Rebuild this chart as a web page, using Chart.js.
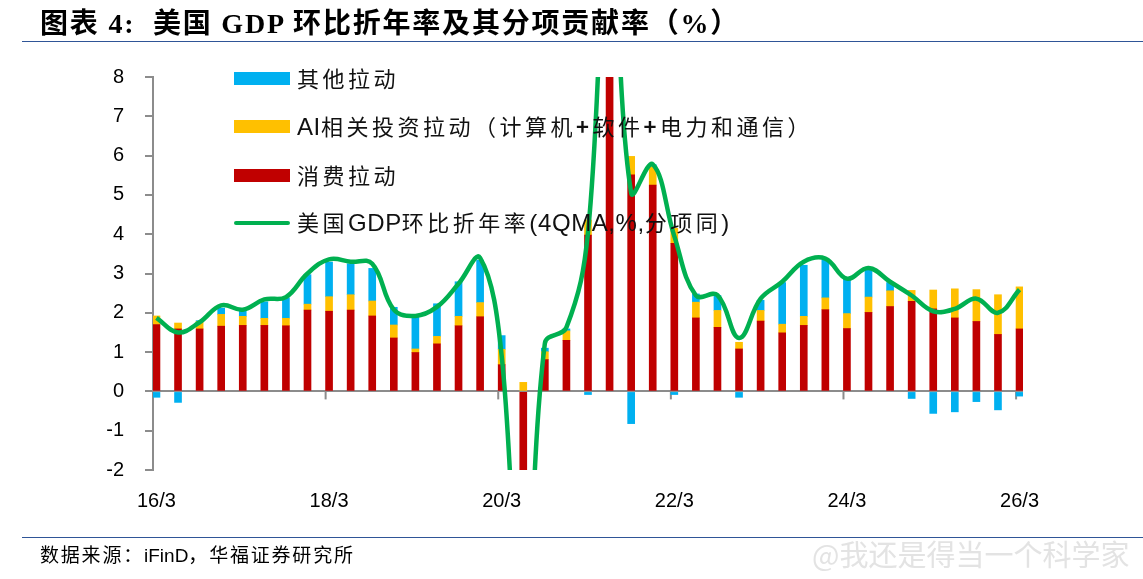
<!DOCTYPE html>
<html>
<head>
<meta charset="utf-8">
<script src="https://cdn.jsdelivr.net/npm/chart.js@4.4.1/dist/chart.umd.min.js"></script>
<style>
  body { margin: 0; background: #fff; }
  #wrap { position: relative; width: 1143px; height: 579px; overflow: hidden; font-family: "Noto Sans CJK SC", sans-serif; }
  #myChart { position: absolute; left: 0; top: 0; }
  .title { position: absolute; left: 40px; top: 1px; font-family: "Liberation Serif", "Noto Sans CJK SC", serif; font-weight: bold; font-size: 28px; letter-spacing: 1.8px; color: #000; white-space: nowrap; }
  .rule { position: absolute; left: 22px; width: 1121px; height: 0; border-top: 1.5px solid #2f5597; }
  .source { position: absolute; left: 40px; top: 540px; font-size: 19px; letter-spacing: 1.8px; color: #000; white-space: nowrap; }
  .source .en { font-family: "Liberation Sans", sans-serif; font-size: 19px; letter-spacing: 0; }
  .mark { position: absolute; left: 812px; top: 532px; font-size: 29px; color: #e3e3e3; white-space: nowrap; }
  .legend { position: absolute; left: 234px; top: 0; }
  .item { position: absolute; left: 0; white-space: nowrap; font-size: 22px; letter-spacing: 3.5px; color: #111; line-height: 30px; }
  .sw { position: absolute; left: 0; width: 56px; }
  .item span.t { position: absolute; left: 63px; top: 0; }
  .lat { font-family: "Liberation Sans", sans-serif; font-size: 24px; letter-spacing: 0.6px; }
</style>
</head>
<body>
<div id="wrap">
  <canvas id="myChart" width="1143" height="579"></canvas>
  <div class="title">图表 4:&nbsp; 美国 GDP 环比折年率及其分项贡献率（%）</div>
  <div class="rule" style="top:41px"></div>
  <div class="legend">
    <div class="item" style="top:62px"><div class="sw" style="top:10px;height:13px;background:#00b0f0"></div><span class="t">其他拉动</span></div>
    <div class="item" style="top:110px"><div class="sw" style="top:10px;height:13px;background:#ffc000"></div><span class="t"><span class="lat">AI</span>相关投资拉动（计算机<b>+</b>软件<b>+</b>电力和通信）</span></div>
    <div class="item" style="top:159px"><div class="sw" style="top:10px;height:13px;background:#c00000"></div><span class="t">消费拉动</span></div>
    <div class="item" style="top:206px"><div class="sw" style="top:15px;height:4px;border-radius:2px;background:#00b050"></div><span class="t">美国<span class="lat">GDP</span>环比折年率<span class="lat">(4QMA,%,</span>分项同<span class="lat">)</span></span></div>
  </div>
  <div class="rule" style="top:537px"></div>
  <div class="source">数据来源：<span class="en">iFinD</span>，华福证券研究所</div>
  <div class="mark">@我还是得当一个科学家</div>
</div>
<script>
// quarters, 2016Q1 .. 2026Q1
const quarters = ['16/3','16/6','16/9','16/12','17/3','17/6','17/9','17/12',
  '18/3','18/6','18/9','18/12','19/3','19/6','19/9','19/12',
  '20/3','20/6','20/9','20/12','21/3','21/6','21/9','21/12',
  '22/3','22/6','22/9','22/12','23/3','23/6','23/9','23/12',
  '24/3','24/6','24/9','24/12','25/3','25/6','25/9','25/12','26/3'];

const tickIdx = [0, 8, 16, 24, 32, 40];

// 4QMA contributions, %
const consumption = [1.70, 1.59, 1.59, 1.66, 1.68, 1.68, 1.67, 2.07,
  2.04, 2.07, 1.92, 1.36, 0.99, 1.21, 1.67, 1.90,
  0.68, -5.5, 0.81, 1.30, 3.98, 11.0, 5.51, 5.25,
  3.77, 1.87, 1.63, 1.08, 1.79, 1.49, 1.68, 2.08,
  1.60, 2.01, 2.16, 2.29, 2.10, 1.87, 1.78, 1.45, 1.59];

const aiInvest = [0.22, 0.15, 0.19, 0.30, 0.23, 0.18, 0.19, 0.15,
  0.37, 0.39, 0.38, 0.33, 0.09, 0.19, 0.24, 0.36,
  0.39, 0.23, 0.20, 0.24, 0.38, 0.45, 0.47, 0.47,
  0.38, 0.40, 0.43, 0.17, 0.27, 0.22, 0.23, 0.30,
  0.38, 0.39, 0.40, 0.28, 0.48, 0.74, 0.81, 1.01, 1.07];

const others = [-0.15, -0.28, 0.02, 0.16, 0.13, 0.42, 0.52, 0.75,
  0.88, 0.79, 0.83, 0.45, 0.83, 0.83, 0.88, 1.08,
  0.35, -1.9, 0.09, 0.05, -0.08, 1.1, -0.82, 0.05,
  -0.08, 0.21, 0.38, -0.15, 0.26, 1.06, 1.30, 1.00,
  0.89, 0.72, 0.21, -0.18, -0.56, -0.52, -0.26, -0.47, -0.12];

const gdp = [1.87, 1.50, 1.76, 2.19, 2.08, 2.34, 2.40, 3.00,
  3.36, 3.30, 3.25, 2.08, 1.92, 2.15, 2.74, 3.40,
  0.90, -7.2, 1.22, 1.63, 4.05, 12.6, 5.05, 5.78,
  3.95, 2.44, 2.45, 1.36, 2.36, 2.79, 3.30, 3.38,
  2.87, 3.14, 2.79, 2.44, 2.04, 2.10, 2.36, 2.00, 2.59];

const xMin = -0.16;
const axisGrey = '#8c8c8c';

const pts = arr => arr.map((v, i) => ({ x: i, y: v }));

// small tick marks hanging from the zero line
const zeroTicks = {
  id: 'zeroTicks',
  beforeDatasetsDraw(chart) {
    const { ctx, scales: { x, y } } = chart;
    const y0 = y.getPixelForValue(0);
    ctx.save();
    ctx.strokeStyle = axisGrey;
    ctx.lineWidth = 2;
    tickIdx.slice(1).forEach(i => {
      const px = x.getPixelForValue(i + xMin);
      ctx.beginPath();
      ctx.moveTo(px, y0);
      ctx.lineTo(px, y0 + 8);
      ctx.stroke();
    });
    ctx.restore();
  }
};

const getChart = document.getElementById('myChart').getContext('2d');
const mychart = new Chart(getChart, {
  type: 'bar',
  data: {
    datasets: [
      {
        type: 'line',
        label: '美国GDP环比折年率(4QMA,%,分项同)',
        data: pts(gdp),
        borderColor: '#00b050',
        borderWidth: 4.5,
        pointRadius: 0,
        tension: 0.4,
        order: 0
      },
      {
        label: '消费拉动',
        data: pts(consumption),
        backgroundColor: '#c00000',
        barThickness: 7,
        order: 1
      },
      {
        label: 'AI相关投资拉动（计算机+软件+电力和通信）',
        data: pts(aiInvest),
        backgroundColor: '#ffc000',
        barThickness: 7,
        order: 1
      },
      {
        label: '其他拉动',
        data: pts(others),
        backgroundColor: '#00b0f0',
        barThickness: 7,
        order: 1
      }
    ]
  },
  options: {
    responsive: false,
    devicePixelRatio: 1,
    animation: false,
    layout: { padding: { left: 0, top: 77, right: 120, bottom: 69 } },
    scales: {
      x: {
        type: 'linear',
        stacked: true,
        offset: false,
        min: xMin,
        max: 40.16,
        afterBuildTicks: axis => { axis.ticks = tickIdx.map(v => ({ value: v })); },
        afterFit: axis => { axis.height = 40; },
        grid: { display: false, drawTicks: false, offset: false },
        border: { display: false },
        ticks: {
          autoSkip: false,
          maxRotation: 0,
          padding: 19,
          color: '#000',
          font: { family: 'Liberation Sans', size: 20 },
          callback: v => quarters[v]
        }
      },
      y: {
        stacked: true,
        min: -2,
        max: 8,
        afterFit: axis => { axis.width = 153; },
        border: { display: true, color: axisGrey, width: 2 },
        grid: {
          color: c => (c.tick && c.tick.value === 0 ? axisGrey : 'rgba(0,0,0,0)'),
          lineWidth: 2,
          tickColor: axisGrey,
          tickLength: 8
        },
        ticks: {
          stepSize: 1,
          padding: 21,
          color: '#000',
          font: { family: 'Liberation Sans', size: 20 }
        }
      }
    },
    plugins: {
      legend: { display: false },
      tooltip: { enabled: false }
    }
  },
  plugins: [zeroTicks]
});
</script>
</body>
</html>
